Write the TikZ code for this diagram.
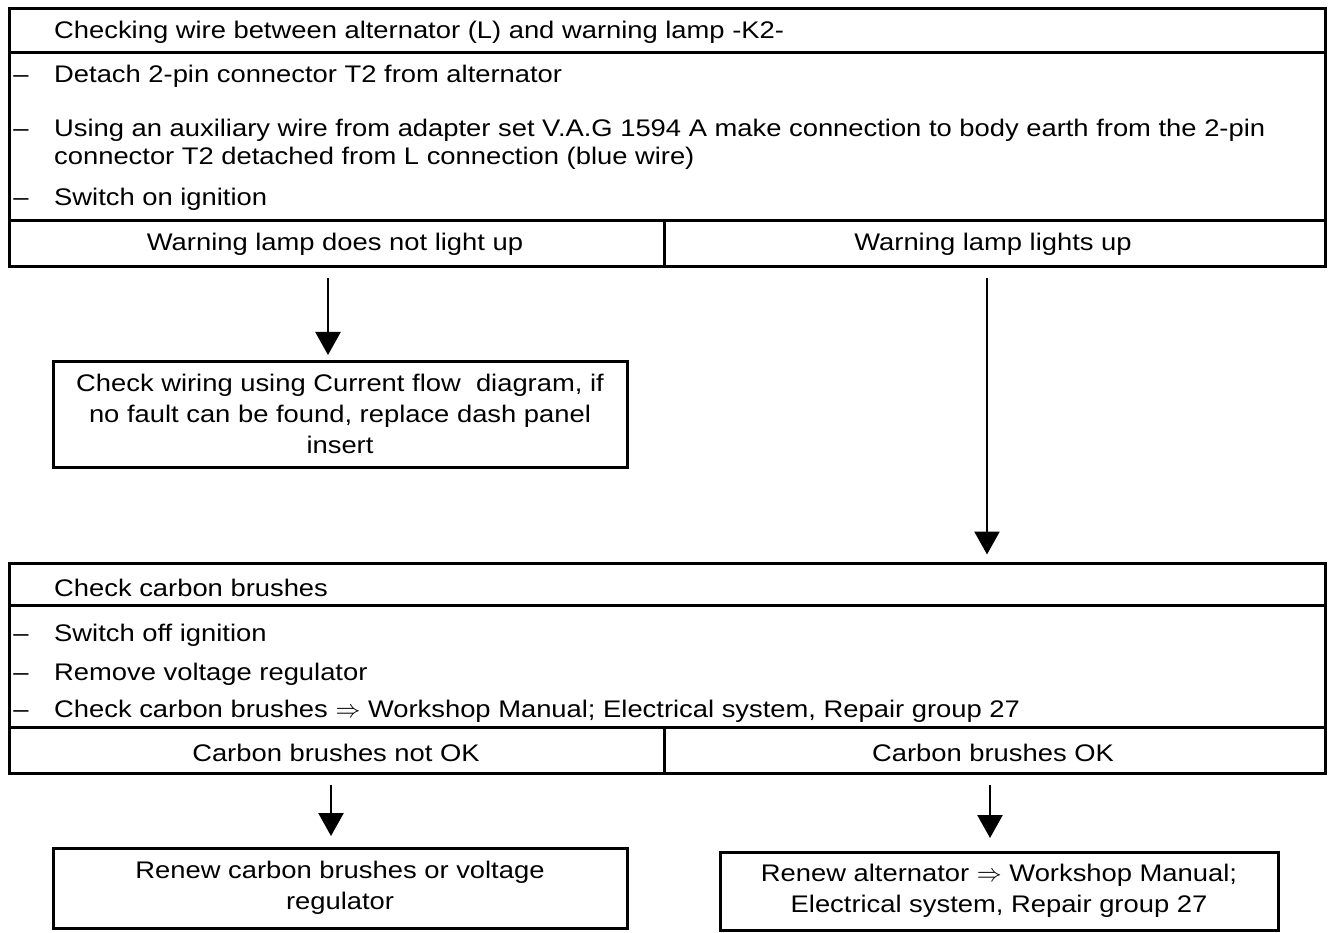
\documentclass[tikz,border=0pt]{standalone}
\usepackage{fontspec}
\setmainfont{Liberation Sans}[FakeStretch=1.14]
\usetikzlibrary{arrows.meta}
\begin{document}
\begin{tikzpicture}[x=1pt,y=-1pt,
  frame/.style={draw, line width=3pt, inner sep=0pt, anchor=north west},
  lbl/.style={anchor=base west, inner sep=0pt, font=\fontsize{24}{31}\selectfont},
  clbl/.style={anchor=base, inner sep=0pt, font=\fontsize{24}{31}\selectfont},
  cbox/.style={draw, line width=3pt, inner sep=0pt, align=center, font=\fontsize{24}{31}\selectfont},
  arr/.style={line width=2.6pt, -{Triangle[length=23pt,width=25pt]}}]
\fill[white] (0,0) rectangle (1328,933);
\useasboundingbox (0,0) rectangle (1328,933);

% top block
\node[frame, minimum width=1316, minimum height=44] (A1) at (8,7) {};
\node[frame, minimum width=1316, minimum height=168] (A2) at (8,51) {};
\node[frame, minimum width=655, minimum height=46] (A3) at (8,219) {};
\node[frame, minimum width=661, minimum height=46] (A4) at (663,219) {};
\node[lbl] (a1) at (54,39) {Checking wire between alternator (L) and warning lamp -K2-};
\node[clbl] (d1) at (21,83) {–};
\node[lbl] (a2) at (54,83) {Detach 2-pin connector T2 from alternator};
\node[clbl] (d2) at (21,137) {–};
\node[lbl] (a3) at (54,137) {Using an auxiliary wire from adapter set V.A.G 1594 A make connection to body earth from the 2-pin};
\node[lbl] (a4) at (54,165) {connector T2 detached from L connection (blue wire)};
\node[clbl] (d3) at (21,206) {–};
\node[lbl] (a5) at (54,206) {Switch on ignition};
\node[clbl] (r1) at (335,251) {Warning lamp does not light up};
\node[clbl] (r2) at (993,251) {Warning lamp lights up};

% check wiring box
\node[cbox, minimum width=574, minimum height=106] (B) at (340,414) {Check wiring using Current flow\ \ diagram, if\\no fault can be found, replace dash panel\\insert};

% carbon brushes block
\node[frame, minimum width=1316, minimum height=42] (C1) at (8,562) {};
\node[frame, minimum width=1316, minimum height=122] (C2) at (8,604) {};
\node[frame, minimum width=655, minimum height=46] (C3) at (8,726) {};
\node[frame, minimum width=661, minimum height=46] (C4) at (663,726) {};
\node[lbl] (c1) at (54,596) {Check carbon brushes};
\node[clbl] (e1) at (21,641) {–};
\node[lbl] (c2) at (54,641) {Switch off ignition};
\node[clbl] (e2) at (21,680) {–};
\node[lbl] (c3) at (54,680) {Remove voltage regulator};
\node[clbl] (e3) at (21,717) {–};
\node[lbl] (c4) at (54,717) {Check carbon brushes $\Rightarrow$ Workshop Manual; Electrical system, Repair group 27};
\node[clbl] (s1) at (336,761) {Carbon brushes not OK};
\node[clbl] (s2) at (993,761) {Carbon brushes OK};

% result boxes
\node[cbox, minimum width=574, minimum height=80] (D) at (340,888) {Renew carbon brushes or voltage\\regulator};
\node[cbox, minimum width=558, minimum height=78] (E) at (999,891) {Renew alternator $\Rightarrow$ Workshop Manual;\\Electrical system, Repair group 27};

% connectors
\coordinate (xl) at (328,0);
\coordinate (xr) at (987,0);
\coordinate (xl2) at (331,0);
\coordinate (xr2) at (990,0);
\draw[arr, shorten <=10.5pt, shorten >=4.5pt] (A3.south -| xl) -- (B.north -| xl);
\draw[arr, shorten <=10.5pt, shorten >=7.5pt] (A4.south -| xr) -- (C1.north -| xr);
\draw[arr, shorten <=9.5pt, shorten >=10.5pt] (C3.south -| xl2) -- (D.north -| xl2);
\draw[arr, shorten <=9.5pt, shorten >=12.5pt] (C4.south -| xr2) -- (E.north -| xr2);
\end{tikzpicture}
\end{document}
